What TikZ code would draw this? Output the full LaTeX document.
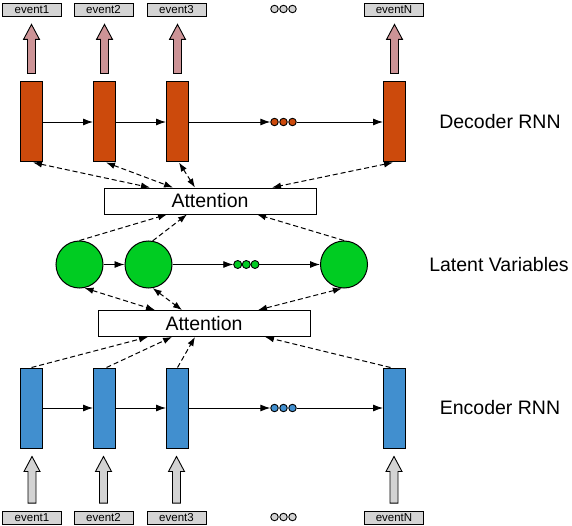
\documentclass[tikz,border=0pt]{standalone}
\usepackage{fontspec}
\setmainfont{Liberation Sans}
\usetikzlibrary{arrows.meta,calc}
\definecolor{decfill}{HTML}{CC4A0C}
\definecolor{encfill}{HTML}{418FCF}
\definecolor{latfill}{HTML}{00CC22}
\definecolor{pinkfill}{HTML}{CC9396}
\definecolor{grayfill}{HTML}{D3D3D3}
\definecolor{boxfill}{HTML}{D4D4D4}
\newcommand\blockup[3]{%
  \draw[fill=#1, line width=0.9pt, line join=miter] let \p1=(#2), \p2=(#3) in
    (\x1-4pt,\y1) -- (\x1-4pt,\y2-15pt) -- (\x1-8pt,\y2-15pt) -- (\x1,\y2)
    -- (\x1+8pt,\y2-15pt) -- (\x1+4pt,\y2-15pt) -- (\x1+4pt,\y1) -- cycle;}
\begin{document}
\begin{tikzpicture}[x=1pt,y=-1pt,
  cell/.style={draw, line width=1pt, minimum width=22pt, minimum height=80pt, inner sep=0pt},
  decell/.style={cell, fill=decfill},
  encell/.style={cell, fill=encfill},
  evbox/.style={draw, line width=0.9pt, fill=boxfill, minimum width=59pt, minimum height=13pt, inner sep=0pt, font=\fontsize{11.5}{12}\selectfont},
  attbox/.style={draw, line width=0.9pt, fill=white, minimum width=212pt, minimum height=26pt, inner sep=0pt, font=\fontsize{19.5}{22}\selectfont},
  latent/.style={circle, draw, line width=1pt, fill=latfill, minimum size=47pt, inner sep=0pt},
  dotn/.style={circle, draw, line width=0.9pt, minimum size=7.5pt, inner sep=0pt},
  lbl/.style={font=\fontsize{19.5}{22}\selectfont},
  flow/.style={line width=0.9pt, -{Latex[length=10pt,width=7pt]}},
  dflow/.style={line width=1pt, dash pattern=on 5pt off 3pt, -{Latex[length=9pt,width=6.5pt]}},
  dboth/.style={dflow, {Latex[length=9pt,width=6.5pt]}-{Latex[length=9pt,width=6.5pt]}}
]
\useasboundingbox (0,0) rectangle (572,526);

% decoder
\node[decell] (d1) at (31.5,122) {};
\node[decell] (d2) at (104.5,122) {};
\node[decell] (d3) at (177.5,122) {};
\node[decell] (d4) at (394.5,122) {};
\node[dotn, fill=decfill] (do1) at (274.5,122) {};
\node[dotn, fill=decfill] (do2) at (283.5,122) {};
\node[dotn, fill=decfill] (do3) at (292.5,122) {};

% top events
\node[evbox] (t1) at (32,9.5) {event1};
\node[evbox] (t2) at (103.5,9.5) {event2};
\node[evbox] (t3) at (176.5,9.5) {event3};
\node[evbox] (t4) at (394,9.5) {eventN};
\node[dotn, fill=grayfill] (to1) at (274.5,9) {};
\node[dotn, fill=grayfill] (to2) at (283.5,9) {};
\node[dotn, fill=grayfill] (to3) at (292.5,9) {};

% encoder
\node[encell] (e1) at (31.5,408) {};
\node[encell] (e2) at (104.5,408) {};
\node[encell] (e3) at (177.5,408) {};
\node[encell] (e4) at (394.5,408) {};
\node[dotn, fill=encfill] (eo1) at (274.5,408) {};
\node[dotn, fill=encfill] (eo2) at (283.5,408) {};
\node[dotn, fill=encfill] (eo3) at (292.5,408) {};

% bottom events
\node[evbox] (b1) at (32,518) {event1};
\node[evbox] (b2) at (103.5,518) {event2};
\node[evbox] (b3) at (176.5,518) {event3};
\node[evbox] (b4) at (394,518) {eventN};
\node[dotn, fill=grayfill] (bo1) at (274.5,517) {};
\node[dotn, fill=grayfill] (bo2) at (283.5,517) {};
\node[dotn, fill=grayfill] (bo3) at (292.5,517) {};

% latent
\node[latent] (c1) at (79.5,264.5) {};
\node[latent] (c2) at (148.5,264.5) {};
\node[latent] (c3) at (344,264.5) {};
\node[dotn, fill=latfill, minimum size=8pt] (lo1) at (237.7,264.5) {};
\node[dotn, fill=latfill, minimum size=8pt] (lo2) at (246.3,264.5) {};
\node[dotn, fill=latfill, minimum size=8pt] (lo3) at (255,264.5) {};

% attention
\node[attbox] (a1) at (210,201) {Attention};
\node[attbox] (a2) at (204,323.5) {Attention};

% labels
\node[lbl] (ld) at (500,122) {Decoder RNN};
\node[lbl] (ll) at (499,265) {Latent Variables};
\node[lbl] (le) at (500,408) {Encoder RNN};

% recurrent arrows
\draw[flow] (d1) -- (d2);
\draw[flow] (d2) -- (d3);
\draw[flow] (d3) -- (do1);
\draw[flow] (do3) -- (d4);
\draw[flow] (e1) -- (e2);
\draw[flow] (e2) -- (e3);
\draw[flow] (e3) -- (eo1);
\draw[flow] (eo3) -- (e4);
\draw[flow] (c1) -- (c2);
\draw[flow] (c2) -- (lo1);
\draw[flow] (lo3) -- (c3);

% block arrows
\blockup{pinkfill}{$(d1.north)+(0,-8)$}{$(t1.south)+(0,8)$}
\blockup{pinkfill}{$(d2.north)+(0,-8)$}{$(t2.south)+(0,8)$}
\blockup{pinkfill}{$(d3.north)+(0,-8)$}{$(t3.south)+(0,8)$}
\blockup{pinkfill}{$(d4.north)+(0,-8)$}{$(t4.south)+(0,8)$}
\blockup{grayfill}{$(b1.north)+(0,-8)$}{$(e1.south)+(0,8)$}
\blockup{grayfill}{$(b2.north)+(0,-8)$}{$(e2.south)+(0,8)$}
\blockup{grayfill}{$(b3.north)+(0,-8)$}{$(e3.south)+(0,8)$}
\blockup{grayfill}{$(b4.north)+(0,-8)$}{$(e4.south)+(0,8)$}

% decoder <-> attention
\draw[dboth] ($(d1.south)+(1.5,0)$) -- ($(a1.north)+(-60,0)$);
\draw[dboth] ($(d2.south)+(1.5,0)$) -- ($(a1.north)+(-37,0)$);
\draw[dboth] ($(d3.south)+(1.5,0)$) -- ($(a1.north)+(-15,0)$);
\draw[dboth] ($(d4.south)+(-1.5,0)$) -- ($(a1.north)+(62,0)$);

% latent -> attention
\draw[dflow] (c1.north) -- ($(a1.south)+(-43,0)$);
\draw[dflow] (c2.80) -- ($(a1.south)+(-23,0)$);
\draw[dflow] (c3.north) -- ($(a1.south)+(47,0)$);

% latent <-> attention
\draw[dboth] (c1.-78) -- ($(a2.north)+(-49,0)$);
\draw[dboth] (c2.-80) -- ($(a2.north)+(-22,0)$);
\draw[dboth] (c3.-95) -- ($(a2.north)+(54,0)$);

% encoder -> attention
\draw[dflow] (e1.north) -- ($(a2.south)+(-56,0)$);
\draw[dflow] ($(e2.north)+(2,0)$) -- ($(a2.south)+(-32,0)$);
\draw[dflow] (e3.north) -- ($(a2.south)+(-9,0)$);
\draw[dflow] ($(e4.north)+(-4,0)$) -- ($(a2.south)+(61,0)$);
\end{tikzpicture}
\end{document}
